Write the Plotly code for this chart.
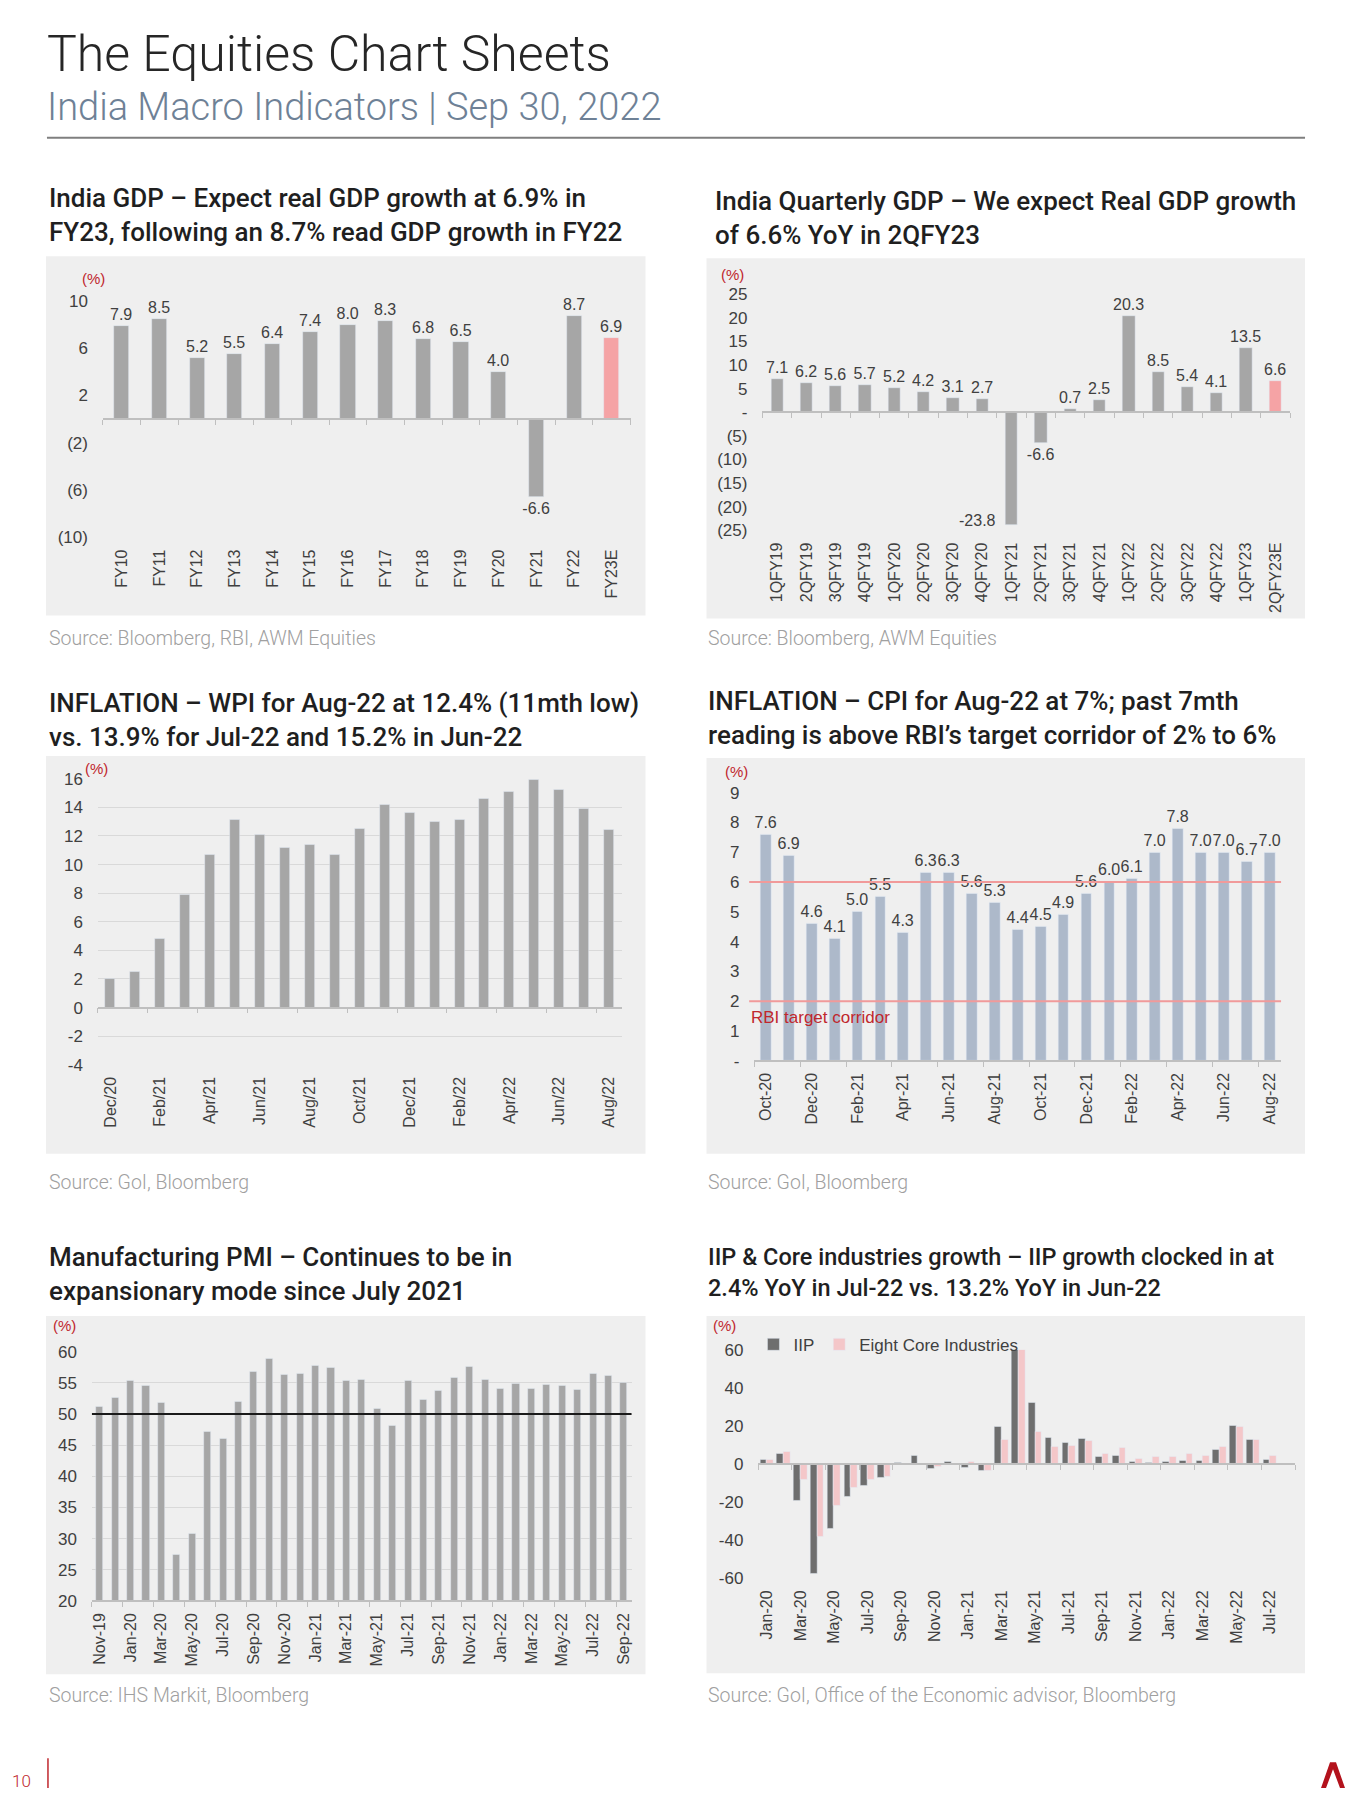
import plotly.graph_objects as go

W, H = 1350, 1800

# ---------------- data ----------------
gdp_years = ["FY10", "FY11", "FY12", "FY13", "FY14", "FY15", "FY16", "FY17", "FY18",
             "FY19", "FY20", "FY21", "FY22", "FY23E"]
gdp_growth = [7.9, 8.5, 5.2, 5.5, 6.4, 7.4, 8.0, 8.3, 6.8, 6.5, 4.0, -6.6, 8.7, 6.9]

q_labels = ["1QFY19", "2QFY19", "3QFY19", "4QFY19", "1QFY20", "2QFY20", "3QFY20", "4QFY20",
            "1QFY21", "2QFY21", "3QFY21", "4QFY21", "1QFY22", "2QFY22", "3QFY22", "4QFY22",
            "1QFY23", "2QFY23E"]
q_growth = [7.1, 6.2, 5.6, 5.7, 5.2, 4.2, 3.1, 2.7, -23.8, -6.6, 0.7, 2.5, 20.3, 8.5, 5.4,
            4.1, 13.5, 6.6]

wpi_months = ["Dec/20", "Jan/21", "Feb/21", "Mar/21", "Apr/21", "May/21", "Jun/21", "Jul/21",
              "Aug/21", "Sep/21", "Oct/21", "Nov/21", "Dec/21", "Jan/22", "Feb/22", "Mar/22",
              "Apr/22", "May/22", "Jun/22", "Jul/22", "Aug/22"]
wpi_values = [2.0, 2.5, 4.8, 7.9, 10.7, 13.1, 12.1, 11.2, 11.4, 10.7, 12.5, 14.2, 13.6, 13.0,
              13.1, 14.6, 15.1, 15.9, 15.2, 13.9, 12.4]

cpi_months = ["Oct-20", "Nov-20", "Dec-20", "Jan-21", "Feb-21", "Mar-21", "Apr-21", "May-21",
              "Jun-21", "Jul-21", "Aug-21", "Sep-21", "Oct-21", "Nov-21", "Dec-21", "Jan-22",
              "Feb-22", "Mar-22", "Apr-22", "May-22", "Jun-22", "Jul-22", "Aug-22"]
cpi_values = [7.6, 6.9, 4.6, 4.1, 5.0, 5.5, 4.3, 6.3, 6.3, 5.6, 5.3, 4.4, 4.5, 4.9, 5.6, 6.0,
              6.1, 7.0, 7.8, 7.0, 7.0, 6.7, 7.0]
cpi_corridor = [2, 6]

pmi_months = ["Nov-19", "Dec-19", "Jan-20", "Feb-20", "Mar-20", "Apr-20", "May-20", "Jun-20",
              "Jul-20", "Aug-20", "Sep-20", "Oct-20", "Nov-20", "Dec-20", "Jan-21", "Feb-21",
              "Mar-21", "Apr-21", "May-21", "Jun-21", "Jul-21", "Aug-21", "Sep-21", "Oct-21",
              "Nov-21", "Dec-21", "Jan-22", "Feb-22", "Mar-22", "Apr-22", "May-22", "Jun-22",
              "Jul-22", "Aug-22", "Sep-22"]
pmi_values = [51.2, 52.7, 55.3, 54.5, 51.8, 27.4, 30.8, 47.2, 46.0, 52.0, 56.8, 58.9, 56.3,
              56.4, 57.7, 57.5, 55.4, 55.5, 50.8, 48.1, 55.3, 52.3, 53.7, 55.9, 57.6, 55.5,
              54.0, 54.9, 54.0, 54.7, 54.6, 53.9, 56.4, 56.2, 55.1]
pmi_threshold = 50

iip_months = ["Jan-20", "Feb-20", "Mar-20", "Apr-20", "May-20", "Jun-20", "Jul-20", "Aug-20",
              "Sep-20", "Oct-20", "Nov-20", "Dec-20", "Jan-21", "Feb-21", "Mar-21", "Apr-21",
              "May-21", "Jun-21", "Jul-21", "Aug-21", "Sep-21", "Oct-21", "Nov-21", "Dec-21",
              "Jan-22", "Feb-22", "Mar-22", "Apr-22", "May-22", "Jun-22", "Jul-22", "Aug-22"]
iip_values = [2.4, 5.4, -19.3, -57.8, -33.9, -17.0, -11.3, -7.4, 0.7, 4.4, -2.3, 1.2, -1.8,
              -3.5, 19.6, 60.0, 32.3, 14.0, 11.4, 13.3, 4.0, 4.4, 1.4, 0.5, 1.4, 1.8, 1.9,
              7.4, 20.0, 12.6, 2.4, None]
core_values = [2.1, 6.3, -8.4, -38.0, -22.0, -12.4, -8.0, -6.9, -0.1, -0.5, -1.4, 0.4, 1.0,
               -3.4, 12.6, 60.0, 16.7, 9.3, 9.7, 12.0, 5.3, 8.4, 2.8, 3.9, 3.9, 5.6, 4.4,
               9.1, 19.6, 13.0, 4.5, None]

# ---------------- styling ----------------
GRAY = "#a6a6a6"
PINK = "#f5a3a5"
CPI_BLUE = "#adb9ca"
IIP_DARK = "#6e6e6e"
CORE_PINK = "#f4c7c9"
RED = "#c0272d"
AXIS = "#bfbfbf"
BOX = "#efefef"
TXT = "#404040"
CHART_FONT = "Liberation Sans, Arial, sans-serif"
TITLE_FONT = "Roboto, sans-serif"


def fx(px):
    return px / W


def fy(py):
    return 1 - py / H


fig = go.Figure()

# panel geometry (pixels): box, plot area, title centre, source line, "(%)" position
panels = [
    dict(box=(45, 645, 250, 613), plot=(102, 630, 295, 534), title_y=208, title_x=46,
         src_y=636, src_x=46, pct=(93, 272), tsize=26),
    dict(box=(706, 1305, 252, 616), plot=(762, 1290, 288, 527), title_y=211, title_x=713,
         src_y=636, src_x=706, pct=(732, 268), tsize=26),
    dict(box=(45, 645, 755, 1157), plot=(97, 621, 778, 1067), title_y=719, title_x=46,
         src_y=1186, src_x=46, pct=(96, 768), tsize=26),
    dict(box=(706, 1305, 757, 1157), plot=(754, 1281, 792, 1063), title_y=717, title_x=706,
         src_y=1186, src_x=706, pct=(736, 771), tsize=26),
    dict(box=(45, 645, 1321, 1683), plot=(91, 631, 1357, 1609), title_y=1279, title_x=46,
         src_y=1704, src_x=46, pct=(64, 1331), tsize=26),
    dict(box=(706, 1305, 1321, 1682), plot=(758, 1295, 1355, 1586), title_y=1277, title_x=706,
         src_y=1704, src_x=706, pct=(724, 1331), tsize=23.5),
]

titles = [
    "India GDP – Expect real GDP growth at 6.9% in<br>FY23, following an 8.7% read GDP growth in FY22",
    "India Quarterly GDP – We expect Real GDP growth<br>of 6.6% YoY in 2QFY23",
    "INFLATION – WPI for Aug-22 at 12.4% (11mth low)<br>vs. 13.9% for Jul-22 and 15.2% in Jun-22",
    "INFLATION – CPI for Aug-22 at 7%; past 7mth<br>reading is above RBI’s target corridor of 2% to 6%",
    "Manufacturing PMI – Continues to be in<br>expansionary mode since July 2021",
    "IIP & Core industries growth – IIP growth clocked in at<br>2.4% YoY in Jul-22 vs. 13.2% YoY in Jun-22",
]
sources = [
    "Source: Bloomberg, RBI, AWM Equities",
    "Source: Bloomberg, AWM Equities",
    "Source: GoI, Bloomberg",
    "Source: GoI, Bloomberg",
    "Source: IHS Markit, Bloomberg",
    "Source: GoI, Office of the Economic advisor, Bloomberg",
]


def paren(v):
    if v < 0:
        return f"({abs(v):g})"
    if v == 0:
        return "-"
    return f"{v:g}"


yspecs = [
    dict(range=[-10, 10], tickvals=[-10, -6, -2, 2, 6, 10], fmt=paren, grid=False),
    dict(range=[-25, 25], tickvals=list(range(-25, 26, 5)), fmt=paren, grid=False),
    dict(range=[-4, 16], tickvals=list(range(-4, 17, 2)), fmt=lambda v: f"{v:g}", grid=True),
    dict(range=[0, 9], tickvals=list(range(0, 10)), fmt=lambda v: "-" if v == 0 else f"{v:g}", grid=False),
    dict(range=[20, 60], tickvals=list(range(20, 61, 5)), fmt=lambda v: f"{v:g}", grid=True),
    dict(range=[-60, 60], tickvals=list(range(-60, 61, 20)), fmt=lambda v: f"{v:g}", grid=False),
]
cats_list = [gdp_years, q_labels, wpi_months, cpi_months, pmi_months, iip_months]
tick_steps = [1, 1, 2, 2, 2, 2]
label_steps = [1, 1, 2, 2, 2, 2]

# panel backgrounds
for i, p in enumerate(panels):
    bx0, bx1, by0, by1 = p["box"]
    fig.add_shape(type="rect", xref="paper", yref="paper", x0=fx(bx0), x1=fx(bx1),
                  y0=fy(by1), y1=fy(by0), fillcolor=BOX, line=dict(width=0), layer="below")

layout_axes = {}
for i, p in enumerate(panels):
    k = i + 1
    xs = "" if k == 1 else str(k)
    x0, x1, yt, yb = p["plot"]
    ys = yspecs[i]
    cats = cats_list[i]
    n = len(cats)
    xdom = [fx(x0), fx(x1)]
    ydom = [fy(yb), fy(yt)]
    layout_axes[f"xaxis{xs}"] = dict(
        domain=xdom, anchor=f"y{xs}", type="category", range=[-0.5, n - 0.5],
        tickmode="array", tickvals=cats[::label_steps[i]], ticktext=cats[::label_steps[i]],
        tickangle=-90, showline=False, ticks="", showgrid=False, zeroline=False,
        tickfont=dict(family=CHART_FONT, size=16, color=TXT), ticklabelstandoff=8,
        fixedrange=True,
    )
    layout_axes[f"yaxis{xs}"] = dict(
        domain=ydom, anchor=f"x{xs}", range=ys["range"], tickmode="array",
        tickvals=ys["tickvals"], ticktext=[ys["fmt"](v) for v in ys["tickvals"]],
        showline=False, ticks="", zeroline=False, showgrid=ys["grid"],
        gridcolor="#d9d9d9", gridwidth=1,
        tickfont=dict(family=CHART_FONT, size=17, color=TXT), ticklabelstandoff=14,
        fixedrange=True,
    )
    # category axis line with boundary ticks, drawn at the baseline value
    r0, r1 = ys["range"]
    base = 0 if r0 < 0 < r1 else r0
    pos = ydom[0] + (base - r0) / (r1 - r0) * (ydom[1] - ydom[0])
    ok = k + 6
    layout_axes[f"xaxis{ok}"] = dict(
        overlaying=f"x{xs}", anchor="free", position=pos, type="linear",
        range=[-0.5, n - 0.5], tickmode="array",
        tickvals=[j - 0.5 for j in range(0, n + 1, tick_steps[i])],
        ticks="outside", ticklen=5, tickcolor=AXIS, tickwidth=1,
        showline=True, linecolor=AXIS, linewidth=1.5, showticklabels=False,
        showgrid=False, zeroline=False, fixedrange=True,
    )
    fig.add_trace(go.Scatter(x=[], y=[], xaxis=f"x{ok}", yaxis=f"y{xs}",
                             showlegend=False, hoverinfo="skip"))

bar_text = dict(family=CHART_FONT, size=16, color=TXT)

# 1. annual GDP
fig.add_trace(go.Bar(
    x=gdp_years, y=gdp_growth, xaxis="x", yaxis="y", width=0.4,
    marker_color=[PINK if c.endswith("E") else GRAY for c in gdp_years],
    texttemplate="%{y:.1f}", textposition="outside", textfont=bar_text,
    constraintext="none", cliponaxis=False, showlegend=False,
))

# 2. quarterly GDP
q_min = min(q_growth)
fig.add_trace(go.Bar(
    x=q_labels, y=q_growth, xaxis="x2", yaxis="y2", width=0.42,
    marker_color=[PINK if c.endswith("E") else GRAY for c in q_labels],
    texttemplate="%{y:.1f}",
    textposition=["none" if v == q_min else "outside" for v in q_growth],
    textfont=bar_text, constraintext="none", cliponaxis=False, showlegend=False,
))
fig.add_annotation(x=q_labels[q_growth.index(q_min)], y=q_min, xref="x2", yref="y2",
                   text=f"{q_min:.1f}", showarrow=False, xanchor="right", yanchor="middle",
                   xshift=-14, yshift=4, font=bar_text)

# 3. WPI
fig.add_trace(go.Bar(
    x=wpi_months, y=wpi_values, xaxis="x3", yaxis="y3", width=0.4,
    marker_color=GRAY, showlegend=False,
))

# 4. CPI
fig.add_trace(go.Bar(
    x=cpi_months, y=cpi_values, xaxis="x4", yaxis="y4", width=0.47,
    marker_color=CPI_BLUE, texttemplate="%{y:.1f}", textposition="outside",
    textfont=bar_text, constraintext="none", cliponaxis=False, showlegend=False,
))
for lvl in cpi_corridor:
    fig.add_shape(type="line", xref="x4 domain", yref="y4", x0=-0.01, x1=1.0, y0=lvl, y1=lvl,
                  line=dict(color="#f19a9a", width=2))
fig.add_annotation(xref="x4 domain", yref="y4", x=-0.01, y=min(cpi_corridor),
                   text="RBI target corridor", showarrow=False, xanchor="left",
                   yanchor="top", yshift=-5,
                   font=dict(family=CHART_FONT, size=17, color=RED))

# 5. PMI
fig.add_trace(go.Bar(
    x=pmi_months, y=pmi_values, xaxis="x5", yaxis="y5", width=0.46,
    marker_color=GRAY, showlegend=False,
))
fig.add_shape(type="line", xref="x5 domain", yref="y5", x0=0, x1=1.0,
              y0=pmi_threshold, y1=pmi_threshold, line=dict(color="#1a1a1a", width=2))

# 6. IIP & core
fig.add_trace(go.Bar(
    x=iip_months, y=iip_values, xaxis="x6", yaxis="y6", width=0.4, offset=-0.4,
    marker_color=IIP_DARK, name="IIP",
))
fig.add_trace(go.Bar(
    x=iip_months, y=core_values, xaxis="x6", yaxis="y6", width=0.4, offset=0.0,
    marker_color=CORE_PINK, name="Eight Core Industries",
))

# titles, sources, unit labels
for i, p in enumerate(panels):
    fig.add_annotation(xref="paper", yref="paper", x=fx(p["title_x"]), y=fy(p["title_y"]),
                       text=titles[i], showarrow=False, xanchor="left", yanchor="middle",
                       align="left",
                       font=dict(family=TITLE_FONT, size=p["tsize"], color="#1f1f1f", weight=500))
    fig.add_annotation(xref="paper", yref="paper", x=fx(p["src_x"]), y=fy(p["src_y"]),
                       text=sources[i], showarrow=False, xanchor="left", yanchor="middle",
                       font=dict(family=TITLE_FONT, size=19.5, color="#a0a0a0", weight=300))
    fig.add_annotation(xref="paper", yref="paper", x=fx(p["pct"][0]), y=fy(p["pct"][1]),
                       text="(%)", showarrow=False, xanchor="center", yanchor="middle",
                       font=dict(family=CHART_FONT, size=15, color=RED))

# header
fig.add_annotation(xref="paper", yref="paper", x=fx(44), y=fy(45),
                   text="The Equities Chart Sheets", showarrow=False, xanchor="left",
                   yanchor="middle",
                   font=dict(family=TITLE_FONT, size=50, color="#262626", weight=300))
fig.add_annotation(xref="paper", yref="paper", x=fx(44), y=fy(99),
                   text="India Macro Indicators | Sep 30, 2022", showarrow=False,
                   xanchor="left", yanchor="middle",
                   font=dict(family=TITLE_FONT, size=38, color="#6e8196", weight=300))
fig.add_shape(type="line", xref="paper", yref="paper", x0=fx(46), x1=fx(1305),
              y0=fy(130), y1=fy(130), line=dict(color="#7f7f7f", width=2))

# footer
fig.add_annotation(xref="paper", yref="paper", x=fx(21), y=fy(1791), text="10",
                   showarrow=False, xanchor="center", yanchor="middle",
                   font=dict(family=TITLE_FONT, size=17, color=RED, weight=300))
fig.add_shape(type="line", xref="paper", yref="paper", x0=fx(47), x1=fx(47),
              y0=fy(1768), y1=fy(1798), line=dict(color=RED, width=1.5))
logo = "M {} {} L {} {} L {} {} L {} {} L {} {} L {} {} L {} {} Z".format(
    fx(1321), fy(1798), fx(1330), fy(1772), fx(1336), fy(1772), fx(1345), fy(1798),
    fx(1340), fy(1798), fx(1333), fy(1779), fx(1326), fy(1798))
fig.add_shape(type="path", xref="paper", yref="paper", path=logo,
              fillcolor="#b3121c", line=dict(width=0))

fig.update_layout(
    width=W, height=H, margin=dict(l=0, r=0, t=0, b=0),
    paper_bgcolor="white", plot_bgcolor="rgba(0,0,0,0)",
    showlegend=True,
    legend=dict(x=fx(753), y=fy(1350), xanchor="left", yanchor="middle",
                orientation="h", bgcolor="rgba(0,0,0,0)", itemwidth=30,
                font=dict(family=CHART_FONT, size=17, color=TXT), traceorder="normal"),
    bargap=0, **layout_axes,
)

fig.write_html("out.html", config={"displayModeBar": False},
               post_script="document.body.style.margin='0';")
